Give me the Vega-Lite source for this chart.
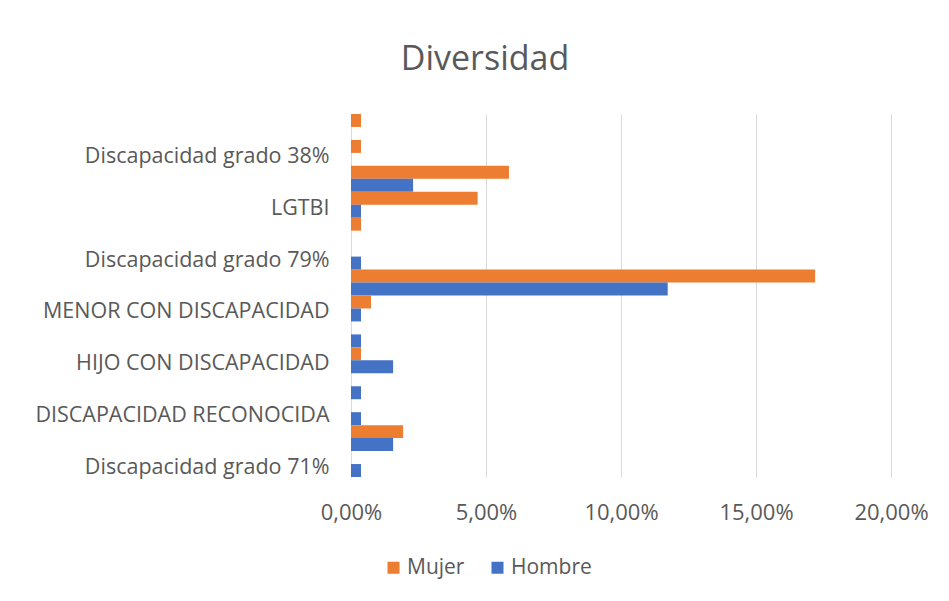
{
  "$schema": "https://vega.github.io/schema/vega-lite/v6.json",
  "autosize": "none",
  "width": 540,
  "height": 363,
  "padding": {"left": 351, "top": 114, "right": 58, "bottom": 124},
  "background": "white",
  "title": {
    "text": "Diversidad",
    "font": "Open Sans",
    "fontSize": 34,
    "fontWeight": "normal",
    "color": "#595959",
    "anchor": "middle",
    "dx": -136,
    "offset": 37
  },
  "data": {
    "values": [
      {"cat": "(sin etiqueta 1)", "order": 0, "sexo": "Mujer", "valor": 0.0037},
      {"cat": "(sin etiqueta 1)", "order": 0, "sexo": "Hombre", "valor": 0},
      {"cat": "Discapacidad grado 38%", "order": 1, "sexo": "Mujer", "valor": 0.0037},
      {"cat": "Discapacidad grado 38%", "order": 1, "sexo": "Hombre", "valor": 0},
      {"cat": "(sin etiqueta 2)", "order": 2, "sexo": "Mujer", "valor": 0.0585},
      {"cat": "(sin etiqueta 2)", "order": 2, "sexo": "Hombre", "valor": 0.023},
      {"cat": "LGTBI", "order": 3, "sexo": "Mujer", "valor": 0.0469},
      {"cat": "LGTBI", "order": 3, "sexo": "Hombre", "valor": 0.0037},
      {"cat": "(sin etiqueta 3)", "order": 4, "sexo": "Mujer", "valor": 0.0037},
      {"cat": "(sin etiqueta 3)", "order": 4, "sexo": "Hombre", "valor": 0},
      {"cat": "Discapacidad grado 79%", "order": 5, "sexo": "Mujer", "valor": 0},
      {"cat": "Discapacidad grado 79%", "order": 5, "sexo": "Hombre", "valor": 0.0037},
      {"cat": "(sin etiqueta 4)", "order": 6, "sexo": "Mujer", "valor": 0.1719},
      {"cat": "(sin etiqueta 4)", "order": 6, "sexo": "Hombre", "valor": 0.1173},
      {"cat": "MENOR CON DISCAPACIDAD", "order": 7, "sexo": "Mujer", "valor": 0.0074},
      {"cat": "MENOR CON DISCAPACIDAD", "order": 7, "sexo": "Hombre", "valor": 0.0037},
      {"cat": "(sin etiqueta 5)", "order": 8, "sexo": "Mujer", "valor": 0},
      {"cat": "(sin etiqueta 5)", "order": 8, "sexo": "Hombre", "valor": 0.0037},
      {"cat": "HIJO CON DISCAPACIDAD", "order": 9, "sexo": "Mujer", "valor": 0.0037},
      {"cat": "HIJO CON DISCAPACIDAD", "order": 9, "sexo": "Hombre", "valor": 0.0156},
      {"cat": "(sin etiqueta 6)", "order": 10, "sexo": "Mujer", "valor": 0},
      {"cat": "(sin etiqueta 6)", "order": 10, "sexo": "Hombre", "valor": 0.0037},
      {"cat": "DISCAPACIDAD RECONOCIDA", "order": 11, "sexo": "Mujer", "valor": 0},
      {"cat": "DISCAPACIDAD RECONOCIDA", "order": 11, "sexo": "Hombre", "valor": 0.0037},
      {"cat": "(sin etiqueta 7)", "order": 12, "sexo": "Mujer", "valor": 0.0193},
      {"cat": "(sin etiqueta 7)", "order": 12, "sexo": "Hombre", "valor": 0.0156},
      {"cat": "Discapacidad grado 71%", "order": 13, "sexo": "Mujer", "valor": 0},
      {"cat": "Discapacidad grado 71%", "order": 13, "sexo": "Hombre", "valor": 0.0037}
    ]
  },
  "mark": {"type": "bar"},
  "encoding": {
    "y": {
      "field": "cat",
      "type": "nominal",
      "sort": {"field": "order", "op": "min", "order": "ascending"},
      "scale": {"paddingInner": 0, "paddingOuter": 0},
      "axis": {
        "title": null,
        "values": ["Discapacidad grado 38%", "LGTBI", "Discapacidad grado 79%", "MENOR CON DISCAPACIDAD", "HIJO CON DISCAPACIDAD", "DISCAPACIDAD RECONOCIDA", "Discapacidad grado 71%"],
        "ticks": false,
        "domain": true,
        "domainColor": "#D9D9D9",
        "domainWidth": 1,
        "grid": false,
        "labelFont": "Open Sans",
        "labelFontSize": 21.5,
        "labelColor": "#595959",
        "labelPadding": 22,
        "labelOffset": 4,
        "labelLimit": 400
      }
    },
    "yOffset": {
      "field": "sexo",
      "type": "nominal",
      "scale": {"domain": ["Mujer", "Hombre"], "paddingInner": 0, "paddingOuter": 0}
    },
    "x": {
      "field": "valor",
      "type": "quantitative",
      "scale": {"domain": [0, 0.2], "nice": false},
      "axis": {
        "title": null,
        "values": [0, 0.05, 0.1, 0.15, 0.2],
        "labelExpr": "replace(format(datum.value, '.2%'), '.', ',')",
        "labelFlush": false,
        "ticks": false,
        "domain": false,
        "grid": true,
        "gridColor": "#D9D9D9",
        "gridWidth": 1,
        "labelFont": "Open Sans",
        "labelFontSize": 22,
        "labelColor": "#595959",
        "labelPadding": 25
      }
    },
    "color": {
      "field": "sexo",
      "type": "nominal",
      "scale": {"domain": ["Mujer", "Hombre"], "range": ["#ED7D31", "#4472C4"]},
      "legend": {
        "title": null,
        "orient": "none",
        "direction": "horizontal",
        "legendX": 32,
        "legendY": 443,
        "symbolType": "square",
        "symbolSize": 144,
        "symbolStrokeWidth": 0,
        "symbolOpacity": 1,
        "labelFont": "Open Sans",
        "labelFontSize": 21,
        "labelColor": "#595959",
        "labelOffset": 3,
        "columnPadding": 22
      }
    }
  },
  "config": {
    "view": {"stroke": null}
  }
}
